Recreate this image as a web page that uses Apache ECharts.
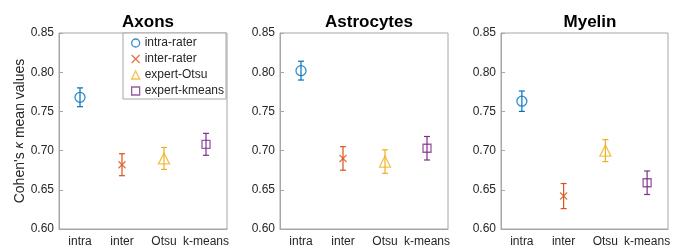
<!DOCTYPE html>
<html>
<head>
<meta charset="utf-8">
<script src="https://cdn.jsdelivr.net/npm/echarts@6/dist/echarts.min.js"></script>
<style>
  html, body { margin: 0; padding: 0; background: #fff; }
  #chart { width: 673px; height: 248px; }
</style>
</head>
<body>
<div id="chart"></div>
<script>
// 数据
var categories = ['intra', 'inter', 'Otsu', 'k-means'];
var panels = ['Axons', 'Astrocytes', 'Myelin'];
var seriesNames = ['intra-rater', 'inter-rater', 'expert-Otsu', 'expert-kmeans'];
var yTicks = [0.60, 0.65, 0.70, 0.75, 0.80, 0.85];

var axonsMean = [0.768, 0.682, 0.690, 0.708];
var axonsErr = [0.012, 0.014, 0.014, 0.014];
var astroMean = [0.802, 0.690, 0.686, 0.703];
var astroErr = [0.012, 0.015, 0.015, 0.015];
var myelinMean = [0.763, 0.642, 0.700, 0.659];
var myelinErr = [0.013, 0.016, 0.014, 0.015];

var means = [axonsMean, astroMean, myelinMean];
var errs = [axonsErr, astroErr, myelinErr];

var colors = ['#0072BD', '#D95319', '#EDB120', '#7E2F8E'];
var symbols = ['circle', 'path://M0,0L10,10M10,0L0,10', 'triangle', 'rect'];
var symbolSizes = [10, 7, 11, 8];

var fontFam = '"Liberation Sans", Arial, sans-serif';
var gridLefts = [59, 280, 501];
var gridW = 168;

var grids = [], xAxes = [], yAxes = [], titles = [], series = [];

panels.forEach(function (name, g) {
    grids.push({
        left: gridLefts[g], top: 33, width: gridW, height: 196,
        show: true, borderColor: '#a6a6a6', borderWidth: 1, backgroundColor: '#fff'
    });
    titles.push({
        text: name, left: gridLefts[g] + gridW / 2, top: 9, textAlign: 'center',
        textStyle: { fontFamily: fontFam, fontSize: 17, fontWeight: 'bold', color: '#000' }
    });
    xAxes.push({
        type: 'category', gridIndex: g, data: categories, boundaryGap: true,
        axisLine: { lineStyle: { color: '#a6a6a6' } },
        axisTick: { inside: true, alignWithLabel: true, length: 4, lineStyle: { color: '#a6a6a6' } },
        axisLabel: { fontFamily: fontFam, fontSize: 12, color: '#262626', margin: 7, interval: 0 },
        splitLine: { show: false }
    });
    var y = {
        type: 'value', gridIndex: g, min: 0.60, max: 0.85, interval: 0.05,
        axisLine: { show: true, lineStyle: { color: '#a6a6a6' } },
        axisTick: { show: true, inside: true, length: 4, lineStyle: { color: '#a6a6a6' } },
        axisLabel: {
            fontFamily: fontFam, fontSize: 12, color: '#262626', margin: 5,
            formatter: function (v) { return v.toFixed(2); }
        },
        splitLine: { show: false }
    };
    if (g === 0) {
        y.name = "{a|Cohen's }{k|κ}{a| mean values}";
        y.nameLocation = 'middle';
        y.nameGap = 31;
        y.nameTextStyle = {
            rich: {
                a: { fontFamily: fontFam, fontSize: 14, color: '#262626' },
                k: { fontFamily: fontFam, fontSize: 13, color: '#262626', fontStyle: 'italic' }
            }
        };
    }
    yAxes.push(y);

    // 误差棒
    var errData = [];
    for (var i = 0; i < categories.length; i++) {
        errData.push([i, means[g][i] - errs[g][i], means[g][i] + errs[g][i]]);
    }
    series.push({
        type: 'custom', xAxisIndex: g, yAxisIndex: g, z: 2, silent: true,
        data: errData,
        renderItem: function (params, api) {
            var lo = api.coord([api.value(0), api.value(1)]);
            var hi = api.coord([api.value(0), api.value(2)]);
            var c = colors[params.dataIndex];
            var st = { stroke: c, lineWidth: 1.2 };
            return {
                type: 'group',
                children: [
                    { type: 'line', shape: { x1: lo[0], y1: lo[1], x2: hi[0], y2: hi[1] }, style: st },
                    { type: 'line', shape: { x1: lo[0] - 3, y1: lo[1], x2: lo[0] + 3, y2: lo[1] }, style: st },
                    { type: 'line', shape: { x1: hi[0] - 3, y1: hi[1], x2: hi[0] + 3, y2: hi[1] }, style: st }
                ]
            };
        }
    });

    // 标记
    seriesNames.forEach(function (sn, k) {
        series.push({
            name: sn, type: 'scatter', xAxisIndex: g, yAxisIndex: g, z: 3,
            symbol: symbols[k], symbolSize: symbolSizes[k],
            itemStyle: { color: 'rgba(0,0,0,0)', borderColor: colors[k], borderWidth: 1.3 },
            data: [[k, means[g][k]]]
        });
    });
});

var option = {
    backgroundColor: '#fff',
    animation: false,
    title: titles,
    grid: grids,
    xAxis: xAxes,
    yAxis: yAxes,
    legend: {
        orient: 'vertical', left: 123, top: 33,
        backgroundColor: '#fff', borderColor: '#a6a6a6', borderWidth: 1,
        padding: [4, 2, 2, 8], itemGap: 4, itemWidth: 8, itemHeight: 8,
        textStyle: { fontFamily: fontFam, fontSize: 12, lineHeight: 12, color: '#262626' },
        data: seriesNames.map(function (sn, k) {
            return {
                name: sn, icon: symbols[k],
                itemStyle: { color: 'rgba(0,0,0,0)', borderColor: colors[k], borderWidth: 1.3 }
            };
        })
    },
    series: series
};

var myChart = echarts.init(document.getElementById('chart'));
myChart.setOption(option);
</script>
</body>
</html>
